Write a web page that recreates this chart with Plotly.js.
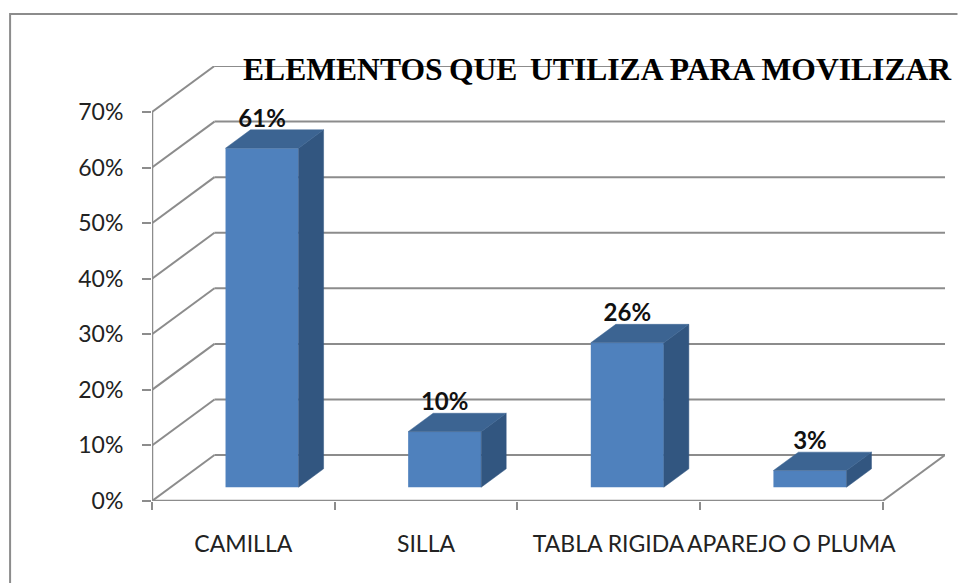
<!DOCTYPE html>
<html>
<head>
<meta charset="utf-8">
<script src="https://cdn.plot.ly/plotly-3.0.1.min.js"></script>
<style>
  html, body { margin: 0; padding: 0; background: #fff; overflow: hidden; }
</style>
</head>
<body>
<div id="chart" style="width:958px;height:583px"></div>
<script>
var categories = ['CAMILLA', 'SILLA', 'TABLA RIGIDA', 'APAREJO O PLUMA']
var values = [61, 10, 26, 3]
var percentTicks = [0, 10, 20, 30, 40, 50, 60, 70]

// Fake 3D: how far the back wall sits from the front, in axis units
var depthX = 0.342
var depthY = 8.27
var barFront = 0.3
var barDepth = 0.4
var barWidth = 0.4

var gray = '#8c8c8c'
var left = 152
var plotWidth = 793.5
var top0 = 66
var plotHeight = 435

// Positions of bars, shifted back into the floor
var centers = values.map(function (v, i) {
  return i + 0.5 + barFront * depthX
})
var base = barFront * depthY
var dx = barDepth * depthX
var dy = barDepth * depthY

var sideX = []
var sideY = []
var topX = []
var topY = []
values.forEach(function (v, i) {
  var l = centers[i] - barWidth / 2
  var r = centers[i] + barWidth / 2
  var t = base + v
  sideX.push(r, r + dx, r + dx, r, r, null)
  sideY.push(base, base + dy, t + dy, t, base, null)
  topX.push(l, r, r + dx, l + dx, l, null)
  topY.push(t, t, t + dy, t + dy, t, null)
})

var front = {
  type: 'bar',
  x: centers,
  y: values,
  base: base,
  width: barWidth,
  marker: { color: '#4f81bd', line: { width: 0 } },
  hoverinfo: 'skip',
}

var sides = {
  type: 'scatter',
  mode: 'lines',
  x: sideX,
  y: sideY,
  fill: 'toself',
  fillcolor: '#325680',
  line: { width: 0.5, color: '#325680' },
  hoverinfo: 'skip',
}

var tops = {
  type: 'scatter',
  mode: 'lines',
  x: topX,
  y: topY,
  fill: 'toself',
  fillcolor: '#3c6492',
  line: { width: 0.5, color: '#3c6492' },
  hoverinfo: 'skip',
}

// Labels sit just above the back edge of each bar
var labels = {
  type: 'scatter',
  mode: 'text',
  x: centers,
  y: values.map(function (v) {
    return base + v + dy + 1.6
  }),
  text: values.map(function (v) {
    return v + '%'
  }),
  textposition: 'middle center',
  textfont: { family: 'Lato, sans-serif', size: 24, color: '#111' },
  texttemplate: '<b>%{text}</b>',
  cliponaxis: false,
  hoverinfo: 'skip',
}

function line(x0, y0, x1, y1, width) {
  return {
    type: 'line',
    xref: 'x',
    yref: 'y',
    x0: x0,
    y0: y0,
    x1: x1,
    y1: y1,
    layer: 'below',
    line: { color: gray, width: width },
  }
}

var nCat = categories.length
var shapes = []

// Walls: diagonal and back line for every tick
percentTicks.forEach(function (p) {
  shapes.push(line(0, p, depthX, p + depthY, 2))
  shapes.push(line(depthX, p + depthY, nCat + depthX, p + depthY, 2))
})
shapes.push(line(0, 0, 0, 70, 2.5))
shapes.push(line(0, 0, nCat, 0, 2.5))
shapes.push(line(nCat, 0, nCat + depthX, depthY, 2))

// Outer frame of the picture, it runs off the right and bottom
shapes.push({
  type: 'path',
  xref: 'paper',
  yref: 'paper',
  path: 'M ' + (10 - left) / plotWidth + ' ' + (top0 + plotHeight) / -plotHeight +
    ' L ' + (10 - left) / plotWidth + ' ' + (top0 + plotHeight - 14) / plotHeight +
    ' L ' + (958 - left) / plotWidth + ' ' + (top0 + plotHeight - 14) / plotHeight,
  line: { color: gray, width: 2 },
  layer: 'below',
})

var layout = {
  width: 958,
  height: 583,
  margin: { l: left, r: 958 - left - plotWidth, t: top0, b: 583 - top0 - plotHeight },
  paper_bgcolor: '#fff',
  plot_bgcolor: 'rgba(0,0,0,0)',
  showlegend: false,
  title: {
    text: '<b>ELEMENTOS\u2009QUE\u2009\u2009UTILIZA\u2009PARA\u2009MOVILIZAR</b>',
    font: { family: 'Liberation Serif, serif', size: 31.6, color: '#000' },
    x: 243 / 958,
    xanchor: 'left',
    xref: 'container',
    y: 1 - 69 / 583,
    yanchor: 'middle',
  },
  xaxis: {
    range: [0, nCat + depthX],
    tickmode: 'array',
    tickvals: categories.map(function (c, i) {
      return i + 0.5
    }),
    ticktext: categories,
    ticks: '',
    tickangle: 0,
    ticklabelstandoff: 27,
    tickfont: { family: 'Lato, sans-serif', size: 23, color: '#222' },
    minor: {
      tickmode: 'array',
      tickvals: [0, 1, 2, 3, 4],
      ticks: 'outside',
      ticklen: 8,
      tickwidth: 2,
      tickcolor: gray,
      showgrid: false,
    },
    showgrid: false,
    zeroline: false,
    showline: false,
    fixedrange: true,
  },
  yaxis: {
    range: [0, 70 + depthY],
    tickmode: 'array',
    tickvals: percentTicks,
    ticktext: percentTicks.map(function (p) {
      return p + '%'
    }),
    ticks: 'outside',
    ticklen: 9,
    tickwidth: 2,
    tickcolor: gray,
    ticklabelstandoff: 14,
    tickfont: { family: 'Lato, sans-serif', size: 23, color: '#222' },
    showgrid: false,
    zeroline: false,
    showline: false,
    fixedrange: true,
  },
  shapes: shapes,
}

Plotly.newPlot('chart', [front, sides, tops, labels], layout, { displayModeBar: false })
</script>
</body>
</html>
